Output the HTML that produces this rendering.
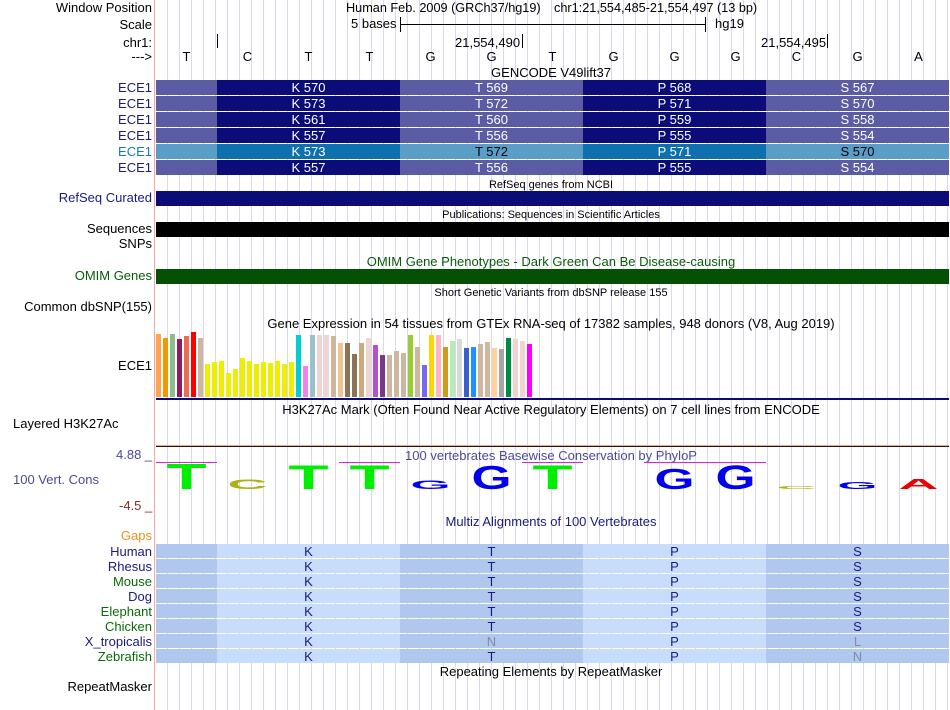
<!DOCTYPE html>
<html><head><meta charset="utf-8">
<style>
body{margin:0;width:950px;height:710px;background:#fff;position:relative;overflow:hidden;font-family:"Liberation Sans",sans-serif;font-size:13px;color:#000}
.a{position:absolute;white-space:nowrap;line-height:14px}
.lab{position:absolute;right:798px;white-space:nowrap;line-height:14px;text-align:right}
.c{position:absolute;white-space:nowrap;line-height:14px;transform:translateX(-50%)}
.sm{font-size:11px}
</style></head><body>
<svg id="bg" width="950" height="710" style="position:absolute;left:0;top:0"></svg>

<div class="lab" style="top:1px">Window Position</div>
<div class="lab" style="top:18px">Scale</div>
<div class="lab" style="top:36px">chr1:</div>
<div class="lab" style="top:50px">---&gt;</div>
<div class="a" style="left:346px;top:1px;font-size:12.7px">Human Feb. 2009 (GRCh37/hg19)</div>
<div class="a" style="left:554px;top:1px;font-size:12.7px">chr1:21,554,485-21,554,497 (13 bp)</div>
<div class="a" style="left:351px;top:17px">5 bases</div>
<div class="a" style="left:715px;top:17px">hg19</div>
<div class="a" style="left:455px;top:36px">21,554,490</div>
<div class="a" style="left:761px;top:36px">21,554,495</div>
<div class="c" style="left:551px;top:66px">GENCODE V49lift37</div>

<div class="c sm" style="left:551px;top:178px">RefSeq genes from NCBI</div>
<div class="lab" style="top:191px;color:#1a1a8a">RefSeq Curated</div>
<div class="c sm" style="left:551px;top:208px">Publications: Sequences in Scientific Articles</div>
<div class="lab" style="top:222px">Sequences</div>
<div class="lab" style="top:237px">SNPs</div>
<div class="c" style="left:551px;top:255px;color:#0a5a0a">OMIM Gene Phenotypes - Dark Green Can Be Disease-causing</div>
<div class="lab" style="top:269px;color:#0a5a0a">OMIM Genes</div>
<div class="c sm" style="left:551px;top:286px">Short Genetic Variants from dbSNP release 155</div>
<div class="lab" style="top:300px">Common dbSNP(155)</div>
<div class="c" style="left:551px;top:317px">Gene Expression in 54 tissues from GTEx RNA-seq of 17382 samples, 948 donors (V8, Aug 2019)</div>
<div class="lab" style="top:359px">ECE1</div>
<div class="c" style="left:551px;top:403px">H3K27Ac Mark (Often Found Near Active Regulatory Elements) on 7 cell lines from ENCODE</div>
<div class="a" style="left:13px;top:417px">Layered H3K27Ac</div>
<div class="a" style="left:116px;top:448px;color:#4a4a9a">4.88 _</div>
<div class="a" style="left:13px;top:473px;color:#4a4a9a">100 Vert. Cons</div>
<div class="a" style="left:119px;top:499px;color:#8a2a2a">-4.5 _</div>
<div class="c" style="left:551px;top:449px;color:#4a4a9a">100 vertebrates Basewise Conservation by PhyloP</div>
<div class="c" style="left:551px;top:515px;color:#1a1a80">Multiz Alignments of 100 Vertebrates</div>
<div class="lab" style="top:529px;color:#f0901a">Gaps</div>
<div class="c" style="left:551px;top:665px">Repeating Elements by RepeatMasker</div>
<div class="lab" style="top:680px">RepeatMasker</div>

<svg id="fg" width="950" height="710" style="position:absolute;left:0;top:0"></svg>

<script>
// ---------- data ----------
const bases = ["T","C","T","T","G","G","T","G","G","G","C","G","A"];
const gencodeCodons = [["K 570","T 569","P 568","S 567"],["K 573","T 572","P 571","S 570"],["K 561","T 560","P 559","S 558"],["K 557","T 556","P 555","S 554"],["K 573","T 572","P 571","S 570"],["K 557","T 556","P 555","S 554"]];
const gtexHeights = [63,59,63,58,61,65,59,33,35,36,24,28,39,36,33,35,34,36,33,35,62,31,62,62,62,61,54,54,43,54,59,52,42,42,46,44,62,50,32,62,62,50,56,58,49,50,53,55,49,48,59,58,56,53];
const gtexColors = ["#FFA54F","#EE9A00","#8FBC8F","#8B1C62","#EE6A50","#FF0000","#CDB79E","#EEEE00","#EEEE00","#EEEE00","#EEEE00","#EEEE00","#EEEE00","#EEEE00","#EEEE00","#EEEE00","#EEEE00","#EEEE00","#EEEE00","#EEEE00","#00CED1","#EE82EE","#9AC0CD","#EED5D2","#EED5D2","#CDB79E","#EEC591","#8B7355","#8B7355","#CDAA7D","#EED5D2","#B452CD","#7A378B","#CDB79E","#CDB79E","#CDB79E","#9ACD32","#CDB79E","#7A67EE","#FFD700","#FFB6C1","#CD9B1D","#B4EEB4","#D9D9D9","#3A5FCD","#1E90FF","#CDB79E","#CDB79E","#FFD39B","#A6A6A6","#008B45","#EED5D2","#EED5D2","#FF00FF"];
const logoLetters = ["T","C","T","T","G","G","T","","G","G","C","G","A"];
const logoHeights = [26,10,25,25,9,24,25,0,21,25,3,7,11];
const logoColors = {T:"#00ee00",C:"#b0b010",G:"#0000ee",A:"#ee0000"};
const species = ["Human","Rhesus","Mouse","Dog","Elephant","Chicken","X_tropicalis","Zebrafish"];
const speciesColors = ["#1a1a80","#1a1a80","#0a6a0a","#1a1a80","#0a6a0a","#0a6a0a","#1a1a80","#0a6a0a"];
const multizAA = [["K","T","P","S"],["K","T","P","S"],["K","T","P","S"],["K","T","P","S"],["K","T","P","S"],["K","T","P","S"],["K","N","P","L"],["K","T","P","N"]];
const ece1Labels = ["ECE1","ECE1","ECE1","ECE1","ECE1","ECE1"];

// ---------- scales ----------
const X0=156, X1=949, BW=(X1-X0)/bases.length;
const bx = i => X0 + BW*i;
const codonStart = [1,4,7,10];
const NS="http://www.w3.org/2000/svg";
function mk(svg,tag,attrs,name,inter){const e=document.createElementNS(NS,tag);for(const k in attrs)e.setAttribute(k,attrs[k]);


svg.appendChild(e);return e;}
const bg=document.getElementById('bg'), fg=document.getElementById('fg');

// grid
for(let x=167;x<950;x+=12) mk(bg,'line',{x1:x+0.5,x2:x+0.5,y1:0,y2:710,stroke:'#d8d8f4'},'grid-line',false);
mk(bg,'line',{x1:154.5,x2:154.5,y1:0,y2:710,stroke:'#f4a8a8'},'label-divider',false);

// ruler
mk(fg,'line',{x1:400,x2:706,y1:24.5,y2:24.5,stroke:'#000'},'scale-bar',false);
mk(fg,'line',{x1:400.5,x2:400.5,y1:17,y2:32,stroke:'#000'},'scale-bar-tick',false);
mk(fg,'line',{x1:705.5,x2:705.5,y1:17,y2:32,stroke:'#000'},'scale-bar-tick',false);
[217,522,827].forEach(x=>mk(fg,'line',{x1:x+0.5,x2:x+0.5,y1:34,y2:48,stroke:'#000'},'position-tick',false));
bases.forEach((b,i)=>{const t=mk(fg,'text',{x:bx(i)+BW/2,y:61,'text-anchor':'middle','font-size':13,'font-family':'Liberation Sans'},'base-'+i,false);t.textContent=b;});

// GENCODE rows
gencodeCodons.forEach((row,r)=>{
  const y=80+16*r, hi=r===4;
  const light=hi?'#5a9ec8':'#5c5ca4', dark=hi?'#0e70ad':'#0c0c78';
  mk(fg,'rect',{x:X0,y:y,width:X1-X0,height:15,fill:light},'gencode-row-'+r,true);
  codonStart.forEach((s,k)=>{
    const x=bx(s);
    if(k%2===0) mk(fg,'rect',{x:x,y:y,width:BW*3,height:15,fill:dark},'gencode-codon',false);
    const t=mk(fg,'text',{x:x+BW*1.5,y:y+12,'text-anchor':'middle','font-size':13,'font-family':'Liberation Sans',fill:(hi&&k%2===1)?'#000':'#fff'},'codon-label',false);t.textContent=row[k];
  });
  const l=mk(fg,'text',{x:152,y:y+12,'text-anchor':'end','font-size':13,'font-family':'Liberation Sans',fill:hi?'#1a7ab0':'#1a1a80'},'gencode-transcript-label',true);l.textContent=ece1Labels[r];
});

// bars
mk(fg,'rect',{x:X0,y:191,width:X1-X0,height:15,fill:'#0c0c78'},'refseq-gene-bar',true);
mk(fg,'rect',{x:X0,y:222,width:X1-X0,height:15,fill:'#000'},'publications-bar',true);
mk(fg,'rect',{x:X0,y:269,width:X1-X0,height:15,fill:'#045004'},'omim-bar',true);

// GTEx
const GB=397;
gtexHeights.forEach((h,i)=>mk(fg,'rect',{x:156+i*7,y:GB-h,width:5,height:h,fill:gtexColors[i]},'gtex-bar-'+i,true));
mk(fg,'rect',{x:X0,y:398,width:X1-X0,height:2,fill:'#0c0c78'},'gtex-baseline',false);

// phyloP
mk(fg,'line',{x1:X0,x2:X1,y1:445.5,y2:445.5,stroke:'#d8b080'},'h3k27ac-signal',false);
mk(fg,'line',{x1:X0,x2:X1,y1:446.5,y2:446.5,stroke:'#3a1010'},'h3k27ac-line',false);
[[0,1],[3,4],[6,7],[8,10]].forEach(([a,b])=>mk(fg,'line',{x1:bx(a),x2:bx(b),y1:462.5,y2:462.5,stroke:'#e020e0'},'phylop-max-line',false));
const glyphW={T:24.4,C:28.9,G:31.1,A:28.9};
logoLetters.forEach((L,i)=>{
  if(!L) return;
  const h=logoHeights[i], cx=bx(i)+BW/2, base=489;
  const sx=40/glyphW[L], sy=h/29;
  const t=mk(fg,'text',{transform:`translate(${cx},${base}) scale(${sx},${sy})`,'text-anchor':'middle','font-size':40,'font-weight':'bold','font-family':'Liberation Sans',fill:logoColors[L]},'phylop-logo-'+i,false);t.textContent=L;
});

// multiz
species.forEach((s,r)=>{
  const y=544+15*r;
  mk(fg,'rect',{x:X0,y:y,width:X1-X0,height:14,fill:'#b0c8ee'},'multiz-row-'+s,true);
  codonStart.forEach((c,k)=>{
    if(k%2===0) mk(fg,'rect',{x:bx(c),y:y,width:BW*3,height:14,fill:'#c8dcfc'},'multiz-codon',false);
    const aa=multizAA[r][k];
    const gray=(r===6&&(k===1||k===3))||(r===7&&k===3);
    const t=mk(fg,'text',{x:bx(c)+BW*1.5,y:y+12,'text-anchor':'middle','font-size':13,'font-family':'Liberation Sans',fill:gray?'#8888aa':'#1a1a80'},'multiz-aa',false);t.textContent=aa;
  });
  const l=mk(fg,'text',{x:152,y:y+12,'text-anchor':'end','font-size':13,'font-family':'Liberation Sans',fill:speciesColors[r]},'species-label',true);l.textContent=s;
});
</script>
</body></html>
